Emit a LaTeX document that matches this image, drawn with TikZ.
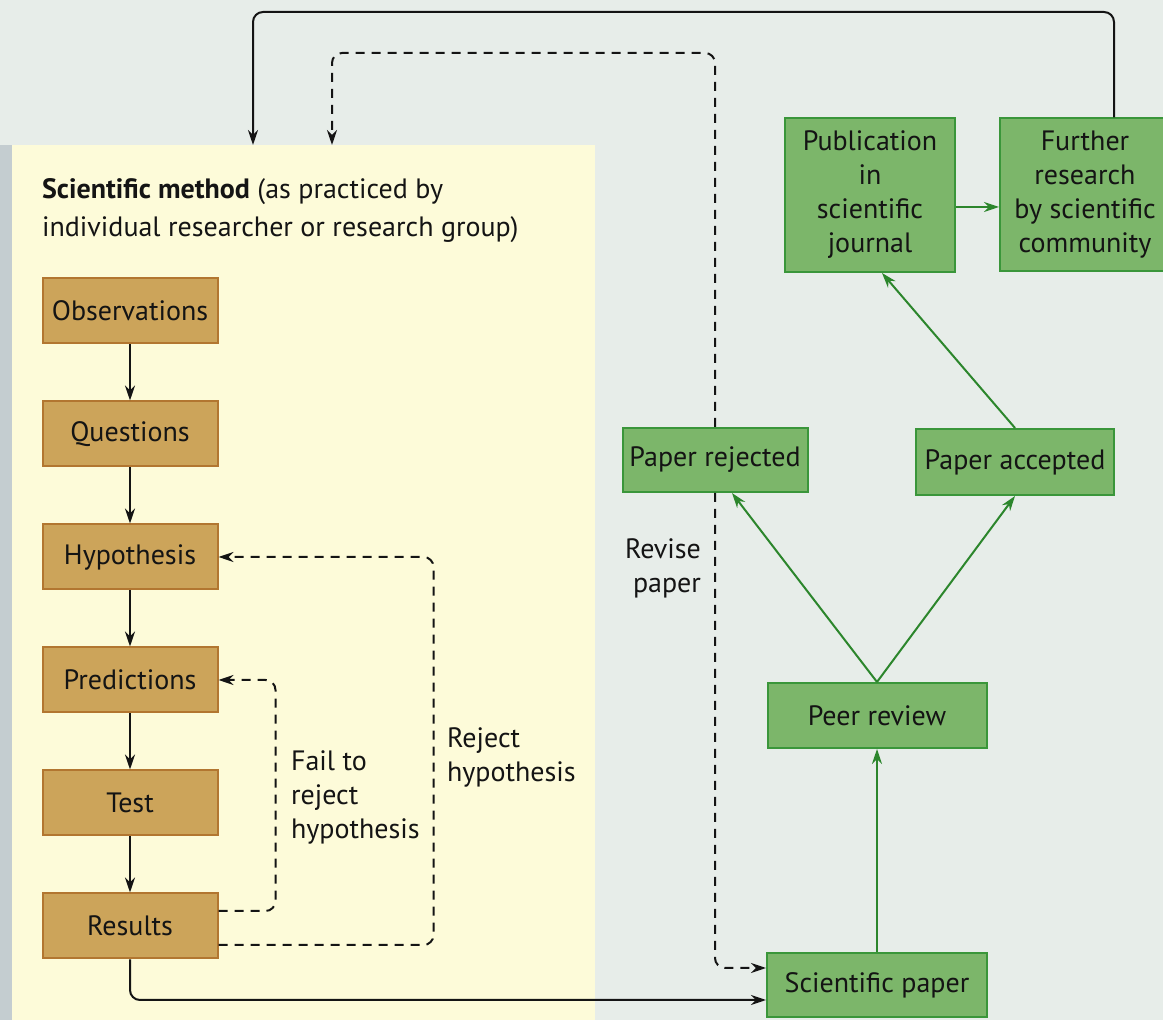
\documentclass[tikz,border=0pt]{standalone}
\usepackage{fontspec}
\setmainfont{PT Sans}
\usetikzlibrary{positioning,arrows.meta}
\definecolor{pagegray}{RGB}{231,237,233}
\definecolor{stripgray}{RGB}{196,205,208}
\definecolor{panelyellow}{RGB}{253,251,217}
\definecolor{tanfill}{RGB}{204,164,90}
\definecolor{tanedge}{RGB}{178,118,48}
\definecolor{greenfill}{RGB}{124,182,106}
\definecolor{greenedge}{RGB}{58,150,58}
\definecolor{greenarrow}{RGB}{44,134,44}
\definecolor{inkgray}{RGB}{20,20,20}

\begin{document}
\begin{tikzpicture}[
        x=0.5pt, y=-0.5pt,
        font=\fontsize{14}{17}\selectfont,
        >={Stealth[length=7.5pt,width=5pt]},
        methodbox/.style={rectangle, draw=tanedge, fill=tanfill, line width=1pt, text=inkgray, minimum width=87.5pt, minimum height=32.5pt},
        journalbox/.style={rectangle, draw=greenedge, fill=greenfill, line width=1pt, text=inkgray, align=center},
        stepline/.style={draw=inkgray, line width=1pt, ->},
        bendline/.style={stepline, rounded corners=5pt},
        dashline/.style={bendline, dash pattern=on 4.5pt off 3.5pt},
        reviewline/.style={draw=greenarrow, line width=1pt, ->}
    ]
        % Page and panel
        \useasboundingbox (0,0) rectangle (1163,1020);
        \fill[pagegray] (0,0) rectangle (1163,1020);
        \fill[stripgray] (0,145) rectangle (12,1020);
        \fill[panelyellow] (12,145) rectangle (595,1020);

        % Nodes
        \node[anchor=west, align=left, text=inkgray, font=\fontsize{14}{19}\selectfont] (title) at (35,211)
            {\textbf{Scientific method} (as practiced by\\individual researcher or research group)};
        \node[methodbox] (obs) at (130,311) {Observations};
        \node[methodbox, below=28pt of obs] (ques) {Questions};
        \node[methodbox, below=28pt of ques] (hyp) {Hypothesis};
        \node[methodbox, below=28pt of hyp] (pred) {Predictions};
        \node[methodbox, below=28pt of pred] (test) {Test};
        \node[methodbox, below=28pt of test] (res) {Results};

        \node[journalbox, minimum width=110pt, minimum height=32pt] (sci) at (877,985) {Scientific paper};
        \node[journalbox, minimum width=109.5pt, minimum height=32.5pt, above=101.5pt of sci] (peer) {Peer review};
        \node[journalbox, minimum width=92.5pt, minimum height=32pt] (rej) at (715,460) {Paper rejected};
        \node[journalbox, minimum width=99pt, minimum height=33pt] (acc) at (1015,462) {Paper accepted};
        \node[journalbox, minimum width=85pt, minimum height=77pt] (pub) at (870,195) {Publication\\in\\scientific\\journal};
        \node[journalbox, minimum width=85pt, minimum height=76.5pt, right=21.5pt of pub] (further) {Further\\research\\by scientific\\community};

        \node[anchor=west, align=left, text=inkgray] (fail) at (284,797) {Fail to\\reject\\hypothesis};
        \node[anchor=west, align=left, text=inkgray] (reject) at (440,757) {Reject\\hypothesis};
        \node[anchor=east, align=right, text=inkgray] (revise) at (708,568) {Revise\\paper};

        \coordinate (inA) at (253,145);
        \coordinate (inB) at (332,145);

        % Edges
        \draw[stepline] (obs) -- (ques);
        \draw[stepline] (ques) -- (hyp);
        \draw[stepline] (hyp) -- (pred);
        \draw[stepline] (pred) -- (test);
        \draw[stepline] (test) -- (res);
        \draw[dashline] ([yshift=7.5pt]res.east) -- ++(28.5pt,0) |- (pred.east);
        \draw[dashline] ([yshift=-9.5pt]res.east) -- ++(107.5pt,0) |- (hyp.east);
        \draw[bendline] (res.south) |- ([yshift=-7.5pt]sci.west);

        \draw[reviewline] (sci) -- (peer);
        \draw[reviewline] (peer.north) -- ([xshift=8.5pt]rej.south);
        \draw[reviewline] (peer.north) -- (acc.south);
        \draw[reviewline] (acc.north) -- ([xshift=6pt]pub.south);
        \draw[reviewline] ([yshift=-6pt]pub.east) -- ([yshift=-6pt]pub.east -| further.west);

        \draw[dashline] (rej.south) |- ([yshift=8.5pt]sci.west);
        \draw[dashline] (rej.north) |- ([yshift=46pt]inB) -- (inB);
        \draw[bendline] ([xshift=14.5pt]further.north) |- ([yshift=66.5pt]inA) -- (inA);
\end{tikzpicture}
\end{document}
